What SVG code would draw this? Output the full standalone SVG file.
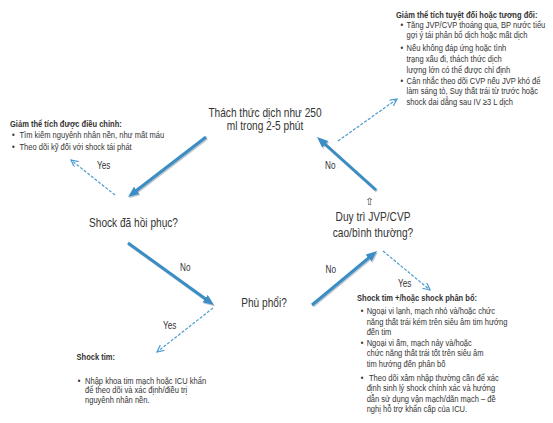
<svg xmlns="http://www.w3.org/2000/svg" width="553" height="423" viewBox="0 0 553 423">
<style>
text{font-family:"Liberation Sans",Arial,sans-serif;fill:#333}
.main{font-size:13px;text-anchor:middle}
.sm{font-size:9.2px}
.b{font-weight:bold}
.lbl{font-size:10px}
.thick{stroke:#3a8dc5;stroke-width:3;fill:none}
.shadow{stroke:#8c99a4;stroke-width:3;fill:none;opacity:0.55}
.dash{stroke:#4a9bd1;stroke-width:1.2;fill:none;stroke-dasharray:3 1.6}
</style>
<defs>
<marker id="ah" markerUnits="userSpaceOnUse" markerWidth="12" markerHeight="10" refX="5" refY="4.5" orient="auto"><path d="M0,0 L11,4.5 L0,9 z" fill="#3a8dc5"/></marker>
<marker id="ahs" markerUnits="userSpaceOnUse" markerWidth="12" markerHeight="10" refX="5" refY="4.5" orient="auto"><path d="M0,0 L11,4.5 L0,9 z" fill="#8c99a4"/></marker>
<marker id="av" markerUnits="userSpaceOnUse" markerWidth="9" markerHeight="9" refX="7" refY="3.5" orient="auto"><path d="M0,0 L7,3.5 L0,7" fill="none" stroke="#4a9bd1" stroke-width="1.2"/></marker>
</defs>
<rect width="553" height="423" fill="#fff"/>
<g id="connectors">
<g transform="translate(1,1.2)">
<line class="shadow" x1="206" y1="137" x2="132.8" y2="193.3" marker-end="url(#ahs)"/>
<line class="shadow" x1="128" y1="243" x2="209.1" y2="301.5" marker-end="url(#ahs)"/>
<line class="shadow" x1="312" y1="305" x2="372.4" y2="254.8" marker-end="url(#ahs)"/>
<line class="shadow" x1="376" y1="190" x2="321.5" y2="141" marker-end="url(#ahs)"/>
</g>
<line class="thick" x1="206" y1="137" x2="132.8" y2="193.3" marker-end="url(#ah)"/>
<line class="thick" x1="128" y1="243" x2="209.1" y2="301.5" marker-end="url(#ah)"/>
<line class="thick" x1="312" y1="305" x2="372.4" y2="254.8" marker-end="url(#ah)"/>
<line class="thick" x1="376" y1="190" x2="321.5" y2="141" marker-end="url(#ah)"/>
<line class="dash" x1="338" y1="141" x2="397" y2="99" marker-end="url(#av)"/>
<line class="dash" x1="115" y1="195" x2="71" y2="160" marker-end="url(#av)"/>
<line class="dash" x1="383" y1="251" x2="430" y2="290" marker-end="url(#av)"/>
<line class="dash" x1="213" y1="308" x2="157" y2="352" marker-end="url(#av)"/>
<text class="lbl" transform="translate(97,169) scale(0.82,1)">Yes</text>
<text class="lbl" transform="translate(180,271) scale(0.82,1)">No</text>
<text class="lbl" transform="translate(325.5,273) scale(0.82,1)">No</text>
<text class="lbl" transform="translate(325,169) scale(0.82,1)">No</text>
<text class="lbl" transform="translate(398,287) scale(0.82,1)">Yes</text>
<text class="lbl" transform="translate(163,329) scale(0.82,1)">Yes</text>
<text x="369.5" y="205" style="font-family:'DejaVu Sans',sans-serif;font-size:10px;text-anchor:middle">⇧</text>
</g>
<g id="node-fluid-challenge">
<text class="main" transform="translate(265,116.5) scale(0.78,1)"><tspan x="0" y="0">Thách thức dịch như 250</tspan><tspan x="0" y="14">ml trong 2-5 phút</tspan></text>
</g>
<g id="node-shock-resolved">
<text class="main" transform="translate(133.5,227) scale(0.78,1)">Shock đã hồi phục?</text>
</g>
<g id="node-pulmonary-edema">
<text class="main" transform="translate(264,306.5) scale(0.78,1)">Phù phổi?</text>
</g>
<g id="node-jvp">
<text class="main" transform="translate(373,220.5) scale(0.78,1)"><tspan x="0" y="0">Duy trì JVP/CVP</tspan><tspan x="0" y="16.5">cao/bình thường?</tspan></text>
</g>
<g id="box-hypovolemia" transform="translate(396,0) scale(0.82,1)">
<text class="sm b" x="0" y="18">Giảm thể tích tuyệt đối hoặc tương đối:</text>
<text class="sm" x="5.5" y="28">•</text>
<text class="sm" x="12.8" y="28">Tăng JVP/CVP thoáng qua, BP nước tiểu</text>
<text class="sm" x="12.8" y="38.5">gợi ý tái phân bổ dịch hoặc mất dịch</text>
<text class="sm" x="5.5" y="51.5">•</text>
<text class="sm" x="12.8" y="51.5">Nếu không đáp ứng  hoặc tình</text>
<text class="sm" x="12.8" y="62.5">trạng xấu đi, thách thức dịch</text>
<text class="sm" x="12.8" y="73">lượng lớn có thể được chỉ định</text>
<text class="sm" x="5.5" y="84">•</text>
<text class="sm" x="12.8" y="84">Cân nhắc theo dõi CVP nếu JVP khó để</text>
<text class="sm" x="12.8" y="94.5">làm sáng tỏ, Suy thất trái từ trước hoặc</text>
<text class="sm" x="12.8" y="105">shock dai dẳng sau IV ≥3 L dịch</text>
</g>
<g id="box-corrected" transform="translate(10,0) scale(0.82,1)">
<text class="sm b" x="0" y="127.5">Giảm thể tích được điều chỉnh:</text>
<text class="sm" x="2.4" y="138.5">•</text>
<text class="sm" x="11.6" y="138.5">Tìm kiếm nguyênh nhân nền, như mất máu</text>
<text class="sm" x="2.4" y="150">•</text>
<text class="sm" x="11.6" y="150">Theo dõi kỹ đối với shock tái phát</text>
</g>
<g id="box-cardiogenic-distributive" transform="translate(357,0) scale(0.82,1)">
<text class="sm b" x="0" y="301">Shock tim +/hoặc shock phân bổ:</text>
<text class="sm" x="4.5" y="314">•</text>
<text class="sm" x="11.8" y="314">Ngoại vi lạnh, mạch nhỏ và/hoặc chức</text>
<text class="sm" x="11.8" y="325">năng thất trái kém trên siêu âm tim hướng</text>
<text class="sm" x="11.8" y="335.5">đến tim</text>
<text class="sm" x="4.5" y="346">•</text>
<text class="sm" x="11.8" y="346">Ngoại vi ấm, mạch nảy và/hoặc</text>
<text class="sm" x="11.8" y="356.5">chức năng thất trái tốt trên siêu âm</text>
<text class="sm" x="11.8" y="367.5">tim hướng đến phân bố</text>
<text class="sm" x="4.5" y="381">•</text>
<text class="sm" x="14.6" y="381">Theo dõi xâm nhập thường cần để xác</text>
<text class="sm" x="11.8" y="391.5">định sinh lý shock chính xác và hướng</text>
<text class="sm" x="11.8" y="402">dẫn sử dụng vận mạch/dãn mạch – đề</text>
<text class="sm" x="11.8" y="412.5">nghị hỗ trợ khẩn cấp của ICU.</text>
</g>
<g id="box-cardiogenic" transform="translate(76.5,0) scale(0.82,1)">
<text class="sm b" x="0" y="360">Shock tim:</text>
<text class="sm" x="1.5" y="384">•</text>
<text class="sm" x="10.4" y="384">Nhập khoa tim mạch hoặc ICU khẩn</text>
<text class="sm" x="10.4" y="393.5">để theo dõi và xác định/điều trị</text>
<text class="sm" x="10.4" y="403">nguyênh nhân nền.</text>
</g>
</svg>
